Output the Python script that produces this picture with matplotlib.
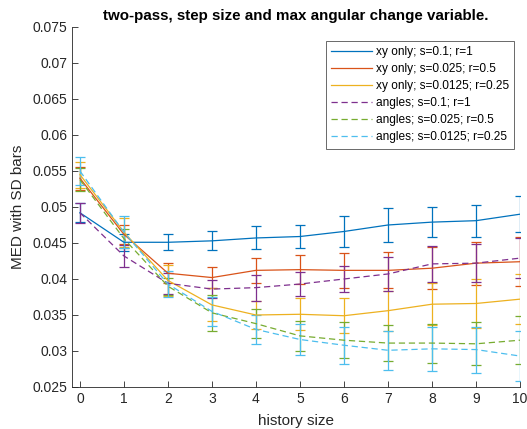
import numpy as np
import matplotlib
matplotlib.use("Agg")
import matplotlib.pyplot as plt
from matplotlib.ticker import FormatStrFormatter
from matplotlib.lines import Line2D

plt.rcParams['font.family'] = ['Liberation Sans', 'DejaVu Sans']

# history size
history = [0, 1, 2, 3, 4, 5, 6, 7, 8, 9, 10]

# mean MED per setting
xy_01 = [0.0492, 0.0451, 0.0451, 0.0453, 0.0457, 0.0459, 0.0466, 0.0475, 0.0479, 0.0481, 0.0490]
xy_0025 = [0.0540, 0.0462, 0.0408, 0.0402, 0.0412, 0.0413, 0.0412, 0.0412, 0.0415, 0.0422, 0.0424]
xy_00125 = [0.0545, 0.0465, 0.0398, 0.0364, 0.0350, 0.0351, 0.0349, 0.0356, 0.0365, 0.0366, 0.0372]
ang_01 = [0.0492, 0.0432, 0.0394, 0.0386, 0.0388, 0.0393, 0.0400, 0.0407, 0.0421, 0.0422, 0.0429]
ang_0025 = [0.0538, 0.0456, 0.0390, 0.0353, 0.0338, 0.0321, 0.0315, 0.0311, 0.0311, 0.0310, 0.0315]
ang_00125 = [0.0550, 0.0465, 0.0393, 0.0355, 0.0330, 0.0316, 0.0308, 0.0301, 0.0303, 0.0302, 0.0293]

# standard deviations
sd_xy_01 = [0.0013, 0.0012, 0.0011, 0.0013, 0.0016, 0.0016, 0.0021, 0.0023, 0.0021, 0.0022, 0.0025]
sd_xy_0025 = [0.0016, 0.0013, 0.0014, 0.0014, 0.0017, 0.0020, 0.0024, 0.0025, 0.0029, 0.0030, 0.0034]
sd_xy_00125 = [0.0018, 0.0020, 0.0022, 0.0023, 0.0020, 0.0022, 0.0024, 0.0028, 0.0029, 0.0034, 0.0035]
sd_ang_01 = [0.0014, 0.0015, 0.0015, 0.0013, 0.0018, 0.0017, 0.0018, 0.0023, 0.0025, 0.0026, 0.0028]
sd_ang_0025 = [0.0016, 0.0013, 0.0012, 0.0025, 0.0020, 0.0021, 0.0025, 0.0025, 0.0027, 0.0030, 0.0033]
sd_ang_00125 = [0.0020, 0.0022, 0.0018, 0.0020, 0.0020, 0.0022, 0.0026, 0.0027, 0.0031, 0.0032, 0.0035]

labels = ['xy only; s=0.1; r=1', 'xy only; s=0.025; r=0.5', 'xy only; s=0.0125; r=0.25',
          'angles; s=0.1; r=1', 'angles; s=0.025; r=0.5', 'angles; s=0.0125; r=0.25']
means = [xy_01, xy_0025, xy_00125, ang_01, ang_0025, ang_00125]
sds = [sd_xy_01, sd_xy_0025, sd_xy_00125, sd_ang_01, sd_ang_0025, sd_ang_00125]
colors = ['#0072BD', '#D95319', '#EDB120', '#7E2F8E', '#77AC30', '#4DBEEE']

fig = plt.figure(figsize=(5.27, 4.29), dpi=100)
ax = fig.add_axes([72 / 527, 1 - 387 / 429, 448 / 527, 360 / 429])

handles = []
for i in range(6):
    eb = ax.errorbar(history, means[i], yerr=sds[i], color=colors[i], lw=0.9,
                     elinewidth=0.9, capsize=3.4, capthick=0.9)
    h = Line2D([], [], color=colors[i], lw=0.9, label=labels[i])
    if i >= 3:
        eb[0].set_dashes((5, 3))
        h.set_dashes((5, 3))
    handles.append(h)

ax.set_xlim(-0.18, 10)
ax.set_ylim(0.025, 0.075)
ax.set_xticks(history)
ax.set_yticks(np.arange(0.025, 0.0751, 0.005))
ax.yaxis.set_major_formatter(FormatStrFormatter('%g'))
ax.tick_params(direction='in', length=4, labelsize=10, colors='#262626', width=0.6)
for s in ['top', 'right']:
    ax.spines[s].set_visible(False)
for s in ['left', 'bottom']:
    ax.spines[s].set_color('#262626')
    ax.spines[s].set_linewidth(0.6)

ax.set_xlabel('history size', fontsize=11, color='#262626', labelpad=6)
ax.set_ylabel('MED with SD bars', fontsize=11, color='#262626', labelpad=5)
ax.set_title('two-pass, step size and max angular change variable.', fontsize=10.9,
             fontweight='bold', pad=5)

leg = ax.legend(handles=handles, loc='upper right', bbox_to_anchor=(514 / 527, 1 - 41 / 429),
                bbox_transform=fig.transFigure, fontsize=8.6, frameon=True, fancybox=False,
                handlelength=3.4, handletextpad=0.3, borderpad=0.45, labelspacing=0.42,
                borderaxespad=0)
leg.get_frame().set_edgecolor('#262626')
leg.get_frame().set_linewidth(0.6)

fig.savefig('out.png', dpi=100)
